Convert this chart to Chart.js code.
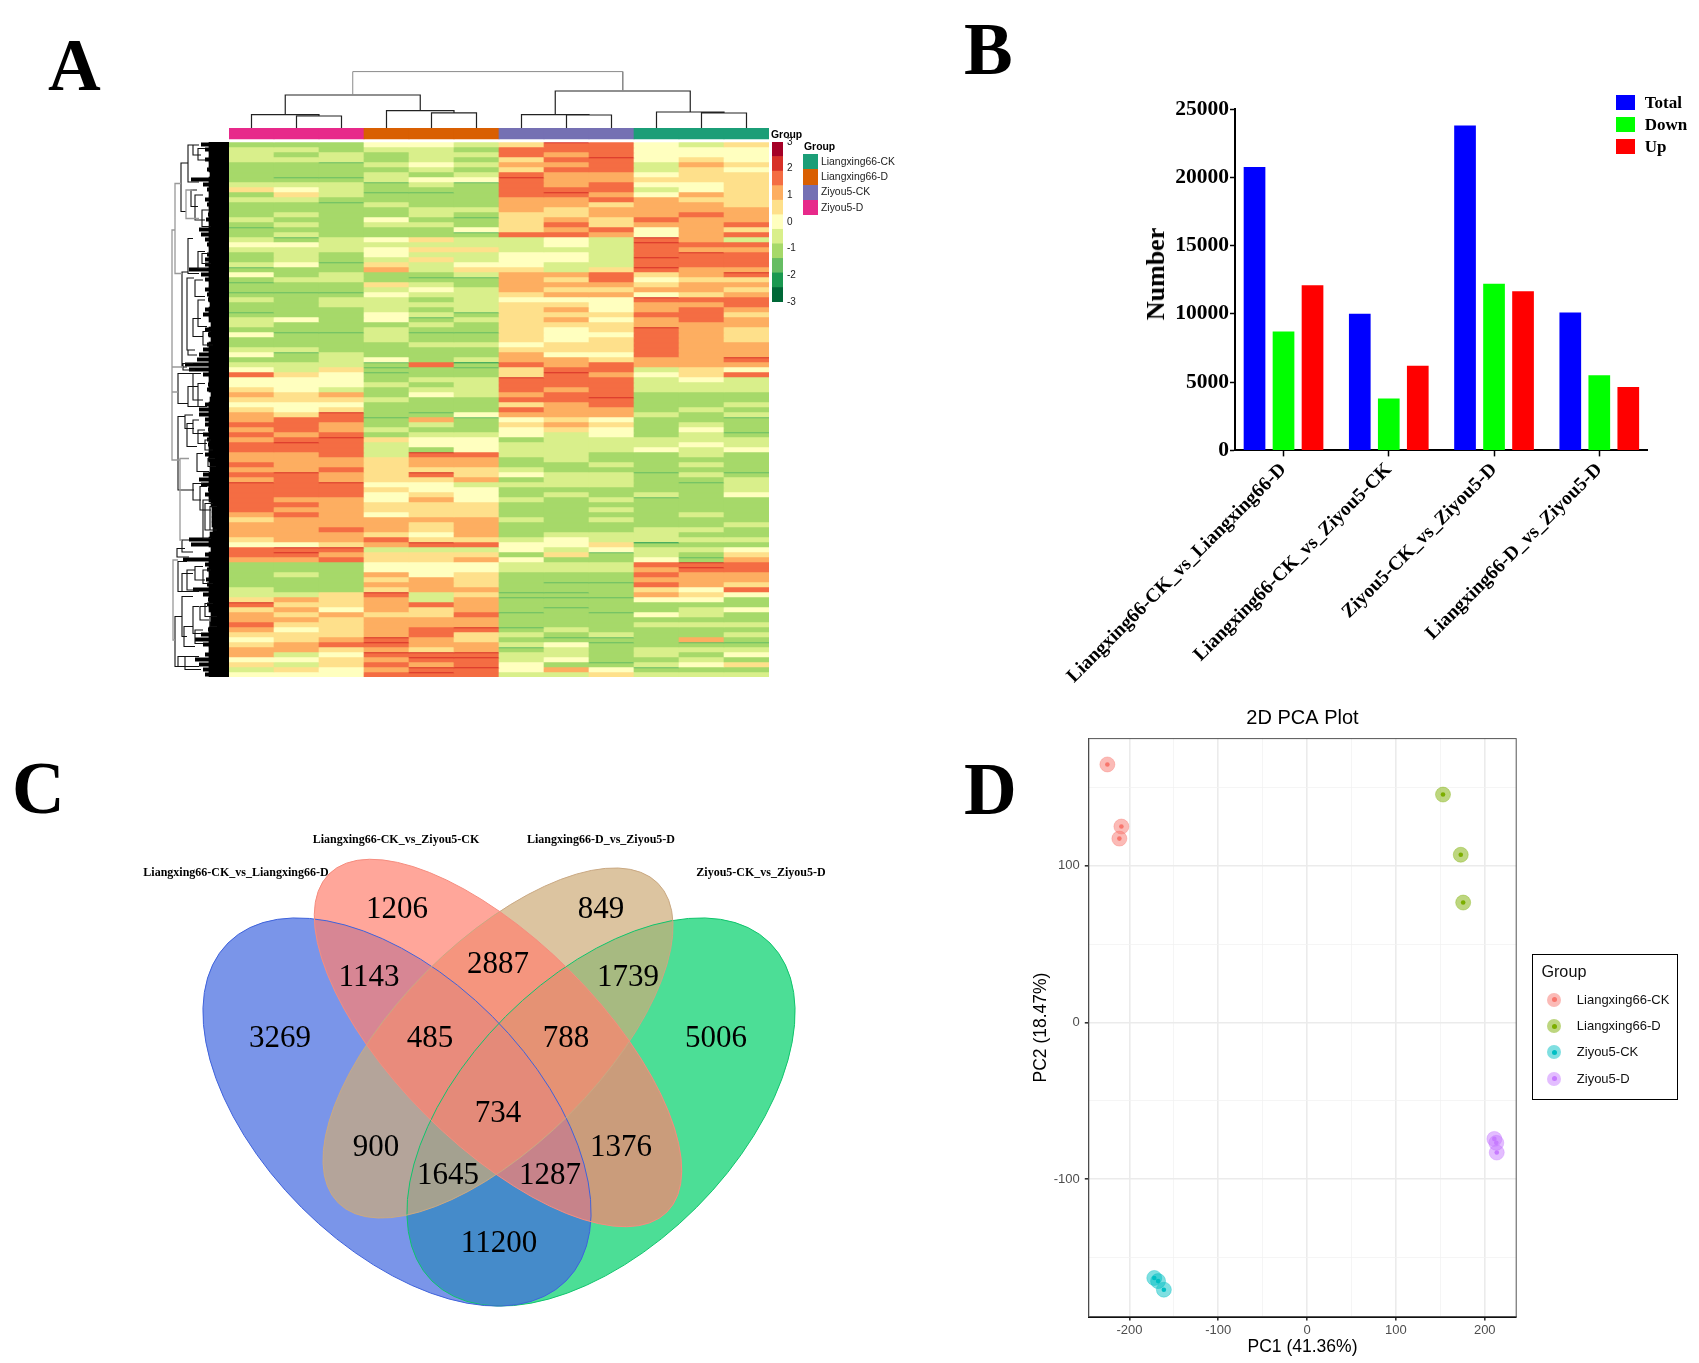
<!DOCTYPE html>
<html lang="en">
<head>
<meta charset="UTF-8">
<title>Transcriptome overview</title>
<script src="https://cdn.jsdelivr.net/npm/chart.js"></script>
<style>
    body { margin: 0; background: #fff; width: 1699px; height: 1363px; overflow: hidden; position: relative; }
    canvas { position: absolute; }
    .t { position: absolute; line-height: 0; white-space: nowrap; color: #000; font-family: "Liberation Sans", sans-serif; }
    .letter { font: bold 73px/0 "Liberation Serif", serif; }
    .box { position: absolute; }
    .a { font-size: 10.4px; color: #222; }
    .b { font: bold 17px/0 "Liberation Serif", serif; }
    .d { font-size: 13px; color: #111; }
    .ytitle { font: bold 26px/0 "Liberation Serif", serif; transform: translateX(-50%) rotate(-90deg); }
</style>
</head>
<body>
<div class="t letter" style="left:48px;top:66px">A</div>
<div class="t letter" style="left:964px;top:50px">B</div>
<div class="t letter" style="left:12px;top:789px">C</div>
<div class="t letter" style="left:964px;top:790px">D</div>

<canvas id="topTree" width="540" height="68" style="left:229px;top:60px"></canvas>
<canvas id="heat" width="540" height="549" style="left:229px;top:128px"></canvas>
<canvas id="leaves" width="59" height="535" style="left:170px;top:142px"></canvas>
<canvas id="sideTree" width="59" height="535" style="left:170px;top:142px"></canvas>
<canvas id="colorBar" width="44" height="180" style="left:772px;top:132px"></canvas>
<canvas id="bars" width="620" height="600" style="left:1040px;top:100px"></canvas>
<canvas id="venn" width="710" height="500" style="left:130px;top:825px"></canvas>
<canvas id="pca" width="565" height="663" style="left:1020px;top:700px"></canvas>

<div id="legends"></div>

<script>
const groupNames = ['Liangxing66-CK', 'Liangxing66-D', 'Ziyou5-CK', 'Ziyou5-D'];
const groupColors = ['#1B9E77', '#D95F02', '#7570B3', '#E7298A'];
const heatColors = ['#006837', '#1A9850', '#66BD63', '#A6D96A', '#D9EF8B', '#FFFFBF', '#FEE08B', '#FDAE61', '#F46D43', '#D73027', '#A50026'];
const scaleTicks = [-3, -2, -1, 0, 1, 2, 3];

// z-score x10, one row per band, columns in plotted order
const heatRowsTop = [
    [-11,-11,-11,0,0,-5,5,22,16,0,-5,5],
    [-5,-5,-11,-5,-5,-11,16,16,16,0,0,0],
    [-5,-11,-5,-11,-5,-5,16,11,16,0,0,0],
    [-5,-5,-5,-11,-5,-11,5,16,22,0,5,0],
    [-11,-11,-16,-5,0,-5,11,11,16,-5,11,5],
    [-11,-11,-11,-11,-5,-11,5,16,16,-5,5,0],
    [-11,-11,-11,-5,-11,-5,16,11,11,0,5,5],
    [-11,-16,-16,-5,0,0,22,11,11,5,5,5],
    [-5,-5,-5,-16,-5,-16,16,11,16,0,0,5],
    [5,0,-5,-11,-11,-11,16,16,16,-5,0,5],
    [-11,5,-5,-16,-16,-11,16,22,11,0,11,5],
    [-5,-5,-11,-11,-11,-11,11,11,16,11,5,5],
    [-11,-11,-16,-5,-11,-11,11,11,5,11,11,5],
    [-11,-11,-11,-11,-5,-5,11,5,11,11,11,11],
    [-11,-5,-11,-11,-5,-11,5,5,11,11,16,11],
    [-5,-11,-11,0,-11,-16,5,11,5,16,11,11],
    [-11,-5,-11,-5,-5,-11,5,16,5,11,11,16],
    [-16,-11,-11,-11,-11,0,5,11,16,0,11,5],
    [-11,-5,-11,-11,-11,-16,16,16,11,0,11,16],
    [-5,-16,-5,0,5,-5,-5,0,-5,22,11,-5],
    [0,0,-5,-5,-5,-5,-5,0,-5,22,16,16],
    [-5,-5,-5,0,5,5,-5,-5,-5,16,11,11],
    [-11,-5,-11,0,-5,-5,0,0,-5,16,22,16],
    [-11,-5,-11,-5,5,-5,0,0,-5,22,16,16],
    [-5,0,-16,5,-5,0,0,-5,-5,16,16,16],
    [-16,-11,-11,11,-5,5,5,-5,5,22,11,11],
    [0,-11,-5,-11,-11,-5,11,11,16,5,11,22],
    [-11,-5,-5,-11,-16,-16,11,5,16,0,5,5],
    [-16,-11,-11,5,-5,-11,11,11,11,5,11,11],
    [-11,-11,-11,-5,0,-5,11,5,5,11,11,5],
    [-16,-16,-16,0,-5,-5,5,11,11,0,5,11],
    [-5,-11,-5,-5,-11,-5,0,0,0,22,16,16],
    [-11,-11,-5,-5,-5,-5,5,5,0,11,11,16],
    [-11,-11,-11,-5,-11,-5,5,11,0,11,16,11],
    [-16,-11,-11,0,-5,-16,5,5,5,16,16,5],
    [-5,0,-11,0,-16,-5,5,11,0,11,16,11]
];
const heatRowsMiddle = [
    [-5,-11,-11,-11,-5,-11,5,5,5,11,11,11],
    [-11,-11,-11,-5,-11,-11,5,0,5,22,11,5],
    [0,-16,-16,-5,-16,-16,5,0,0,16,11,5],
    [-11,-11,-11,-5,-11,-11,5,0,5,16,11,5],
    [-11,-11,-11,-11,-5,-5,0,5,5,16,11,11],
    [-5,-5,-11,-11,-11,-11,5,5,5,16,11,11],
    [0,-16,-5,-11,-11,-11,11,0,0,16,11,11],
    [-11,-11,-5,0,-11,-5,11,11,5,11,11,22],
    [-5,-5,-5,-16,16,-22,16,11,16,11,11,11],
    [0,-5,5,-16,-11,-16,5,16,16,-5,5,0],
    [16,5,0,-16,-11,-11,5,22,11,0,5,16],
    [0,0,0,-11,-5,-5,22,16,16,-5,0,-5],
    [0,0,0,-5,-11,-5,16,16,16,-5,-5,-5],
    [5,0,-5,-11,-5,-5,16,11,16,-5,-5,-5],
    [11,5,11,-11,0,-5,11,16,16,-11,-11,-11],
    [5,5,5,-5,-11,-11,16,16,22,-11,-11,-11],
    [0,0,0,-11,-11,-11,5,11,16,-11,-11,-5],
    [5,0,5,-11,-11,-11,16,11,11,-11,-5,-11],
    [11,5,22,-11,-16,0,11,11,11,-5,-11,-5],
    [11,16,16,-16,11,-16,0,5,0,-11,-11,-16],
    [16,16,11,-11,-5,-11,5,11,5,-11,-5,-11],
    [11,16,11,-5,-11,-11,0,5,0,-11,0,-11],
    [16,11,16,-11,-5,-5,0,-5,0,-11,-5,-16],
    [11,16,22,5,0,0,-11,-5,-5,-5,-5,-5],
    [16,22,16,-5,0,0,-5,-5,-5,-5,0,-5],
    [16,16,16,-5,-11,0,-5,-5,-5,0,-5,0],
    [11,11,16,-5,22,16,-5,-5,-11,-11,-5,-11],
    [11,11,11,5,11,11,-11,-5,-11,-11,-11,-11],
    [16,11,11,5,11,11,-11,-11,-5,-11,-5,-11],
    [11,11,16,5,5,5,-5,-11,-11,-11,-11,-11],
    [16,22,11,5,22,5,0,-5,-5,-16,-5,-16],
    [11,16,11,5,5,11,-11,-5,-5,-11,-11,-5],
    [22,16,22,0,0,-5,-5,-5,-5,-11,-16,-5],
    [16,16,16,5,0,0,-11,-11,-11,-11,-11,-5],
    [16,16,16,0,5,0,-11,-5,-11,-5,-11,0],
    [16,11,11,0,11,0,-5,-11,-5,-16,-11,-11]
];
const heatRowsBottom = [
    [16,16,11,5,5,5,-11,-11,-11,-11,-11,-11],
    [16,11,11,5,5,5,-11,-11,-5,-11,-11,-11],
    [11,16,11,0,5,5,-11,-11,-11,-11,-5,-11],
    [5,11,11,11,11,11,-5,-11,-5,-11,-11,-11],
    [11,11,11,11,5,11,-11,-11,-11,-11,-11,-5],
    [11,11,16,11,5,11,-11,-11,-11,-5,-5,-11],
    [11,11,11,5,0,11,-11,-5,-5,-5,-11,-11],
    [5,11,11,16,5,5,-5,0,-5,-5,-5,-5],
    [0,0,5,11,22,16,0,0,5,-22,-11,-11],
    [16,22,22,-5,-5,-5,0,-5,0,-5,-5,0],
    [16,22,11,5,5,5,-11,5,-16,-5,-11,5],
    [11,11,16,5,5,11,0,-11,-11,0,-16,11],
    [-11,-11,-11,0,0,0,-5,-5,-5,16,22,16],
    [-11,-11,-11,0,0,0,-5,-5,-5,11,22,16],
    [-11,-5,-11,11,0,5,-11,-11,-11,16,11,11],
    [-11,-11,-11,5,11,5,-11,-11,-11,11,11,11],
    [-11,-11,-11,11,11,5,-11,-16,-16,16,11,5],
    [-5,-11,-11,5,11,11,-11,-11,-11,5,0,16],
    [-5,-5,5,22,-5,5,-16,-16,-11,11,5,0],
    [5,11,5,11,-5,11,-16,-16,-16,0,0,-11],
    [22,5,5,11,16,11,-11,-11,-11,-11,-11,-11],
    [5,11,0,11,5,11,-11,-16,-11,-11,-5,0],
    [11,5,11,5,5,16,-16,-11,-16,0,-5,-11],
    [11,11,5,11,11,11,-11,-11,-11,-11,-11,-11],
    [16,5,5,11,11,11,-11,-11,-11,-5,-5,-5],
    [11,0,5,11,16,22,-16,-5,-11,-11,-11,-11],
    [5,5,5,11,16,5,-5,-11,-5,-11,-11,-5],
    [0,5,11,22,11,5,-11,-16,-16,-11,11,-11],
    [5,11,16,22,11,11,-5,0,-16,-11,-16,-16],
    [11,11,5,11,5,11,-16,-5,-11,-5,-5,-5],
    [11,-5,0,22,22,22,-5,-5,-11,-5,-11,0],
    [0,0,5,11,22,22,-5,0,-11,-11,-5,-11],
    [5,-5,5,16,11,16,0,-11,-16,-5,0,5],
    [-5,5,0,11,22,22,0,11,0,-16,-11,-11],
    [0,0,0,16,22,16,-5,-5,5,-5,-5,-5]
];
const heatRows = heatRowsTop.concat(heatRowsMiddle, heatRowsBottom);

// sample tree above the heatmap: left leaf, right leaf, height, left child height, right child height
const topBranches = [
    [1.75, 4.75, 33, 13.4, 17.4], [7.75, 10.75, 37, 13.4, 16],
    [1, 2.5, 13.4, 0, 12], [2, 3, 12, 0, 0],
    [4, 5.5, 17.4, 0, 15.2], [5, 6, 15.2, 0, 0],
    [7, 8.5, 13.4, 0, 13], [8, 9, 13, 0, 0],
    [10, 11.5, 16, 0, 15], [11, 12, 15, 0, 0]
];
const topRootBranches = [[3.25, 9.25, 56.4, 33, 37]];

// gene tree: how far each row's leaves reach to the left
const leafDepth = [28,24,20,24,20,22,19,38,26,22,20,24,22,20,21,23,20,30,28,24,22,20,22,24,24,40,28,24,20,24,22,21,19,24,26,20,18,24,21,18,22,26,30,32,44,40,26,20,21,22,18,19,24,30,
    30,24,24,21,26,22,21,20,24,21,19,19,26,30,28,21,24,20,18,17,17,17,17,16,19,40,38,18,24,46,24,22,20,23,22,36,26,21,22,20,18,18,19,21,28,34,26,20,24,34,30,26,24];
// depth, row a, row b, child depth at a, child depth at b
const treeGrey = [
    [57, 17.6, 63.6, 54, 49], [54, 8.3, 26.3, 48, 47], [43, 9.6, 15.3, 36, 30],
    [49, 63.3, 79.6, 40, 47], [56, 83.6, 99.6, 51, 54], [57, 45, 45, 46, 46], [57, 50, 50, 51, 51]
];
const treeBlack = [
    [48, 4.2, 13.9, 41, 43], [41, 0.6, 8, 36, 30], [47, 26, 45, 41, 42], [41, 19.3, 26.3, 36, 30], [42, 27.2, 41.6, 35, 38],
    [36, 0.6, 2.6, 30, 28], [31, 1.3, 3.6, 24, 22], [38, 9.6, 12.9, 32, 31], [34, 10.6, 15.6, 26, 24], [27, 13.6, 16.9, 20, 18],
    [31, 21.9, 25.3, 24, 22], [27, 22.3, 24.3, 20, 18], [34, 27.6, 30.9, 26, 24], [31, 31.6, 36.9, 24, 22], [36, 35.3, 38.9, 28, 26],
    [26, 37.9, 40.6, 18, 16], [41, 41.6, 42.6, 34, 32], [46, 44.3, 45.6, 36, 34], [36, 46.3, 51.6, 28, 26], [31, 48.3, 52.9, 24, 22],
    [51, 46.3, 52.3, 36, 41], [41, 48.9, 52.9, 31, 30],
    [51, 54.9, 69.6, 44, 35], [42, 56.3, 60.9, 36, 32], [44, 54.6, 57.3, 36, 35], [36, 55.6, 58.3, 30, 26], [31, 57.6, 60.3, 24, 22],
    [24, 59.6, 61.6, 18, 16], [32, 62.3, 65.9, 26, 20], [21, 63.3, 64.9, 14, 13], [36, 68.3, 71.6, 26, 28], [29, 68.9, 73.6, 22, 18],
    [26, 71.6, 79.3, 18, 18], [24, 72.3, 77.6, 16, 14], [19, 72.9, 77.6, 12, 12], [47, 79.6, 82, 40, 36], [52, 81.3, 83, 44, 40],
    [51, 83.9, 89.9, 42, 46], [42, 85.6, 89.6, 34, 30], [34, 84.9, 87.6, 26, 24], [26, 85.6, 88.3, 18, 16], [47, 86.3, 89.9, 36, 30],
    [54, 94.9, 104.9, 47, 50], [47, 90.9, 98.9, 36, 42], [45, 96.9, 100.9, 36, 34], [36, 92.9, 98.3, 30, 28], [29, 92.9, 95.6, 22, 20],
    [24, 92.3, 94.9, 16, 16], [19, 94.9, 96.9, 12, 12], [34, 97.6, 100.3, 26, 26], [51, 102.9, 104.9, 32, 30], [44, 102.9, 105.5, 30, 28]
];

// panel B
const comparisons = ['Liangxing66-CK_vs_Liangxing66-D', 'Liangxing66-CK_vs_Ziyou5-CK', 'Ziyou5-CK_vs_Ziyou5-D', 'Liangxing66-D_vs_Ziyou5-D'];
const totalCounts = [20750, 10000, 23800, 10100];
const downCounts = [8700, 3800, 12200, 5500];
const upCounts = [12100, 6200, 11650, 4650];

// panel C
const vennSets = ['Liangxing66-CK_vs_Ziyou5-CK', 'Liangxing66-D_vs_Ziyou5-D', 'Liangxing66-CK_vs_Liangxing66-D', 'Ziyou5-CK_vs_Ziyou5-D'];
const vennSetX = [396, 601, 236, 761];
const vennSetY = [840, 840, 873, 873];
const vennCounts = [1206, 849, 2887, 1143, 1739, 3269, 485, 788, 5006, 734, 900, 1376, 1645, 1287, 11200];
const vennCountX = [397, 601, 498, 369, 628, 280, 430, 566, 716, 498, 376, 621, 448, 550, 499];
const vennCountY = [910, 910, 965, 978, 978, 1039, 1039, 1039, 1039, 1114, 1148, 1148, 1176, 1176, 1244];
// centre x, centre y, long radius, short radius, tilt in degrees
const vennGreen = [601, 1112, 239, 135, -45];
const vennBlue = [397, 1112, 239, 135, 45];
const vennTan = [498, 1043, 226, 101, -45];
const vennPink = [498, 1043, 239, 102, 45];

// panel D
const pcaCKx = [-224.8, -209, -211.3];
const pcaCKy = [164.6, 125, 117.3];
const pcaDx = [153, 173, 175.7];
const pcaDy = [145.4, 107, 76.5];
const pcaZCKx = [-172, -167.7, -161.2];
const pcaZCKy = [-163, -165, -170.5];
const pcaZDx = [210.8, 213, 213.5];
const pcaZDy = [-74.3, -76.8, -83];

Chart.defaults.animation = false;
Chart.defaults.responsive = false;
Chart.defaults.plugins.legend.display = false;
Chart.defaults.plugins.tooltip.enabled = false;

function binColor(z) {
    const i = Math.floor((z / 10 + 3) / 6 * 11);
    return heatColors[Math.min(10, Math.max(0, i))];
}

// the strongest values in the picture are mostly hairlines on a paler band
function bandBody(z) {
    if (z === -16 || z === -22) return -11;
    if (z === 22) return 16;
    return z;
}

function treePoints(branches) {
    const pts = [];
    branches.forEach(([d, a, b, da, db]) => {
        pts.push({x: da, y: a}, {x: d, y: a}, {x: d, y: b}, {x: db, y: b}, {x: null, y: null});
    });
    return pts;
}

function topTreePoints(branches) {
    const pts = [];
    branches.forEach(([l, r, h, hl, hr]) => {
        pts.push({x: l, y: hl}, {x: l, y: h}, {x: r, y: h}, {x: r, y: hr}, {x: null, y: null});
    });
    return pts;
}

const hidden = {display: false};

// ----- A: sample tree
new Chart(document.getElementById('topTree'), {
    type: 'scatter',
    data: {datasets: [
        {data: topTreePoints(topRootBranches), showLine: true, borderColor: '#8a8a8a', borderWidth: 1, pointRadius: 0},
        {data: topTreePoints(topBranches), showLine: true, borderColor: '#222', borderWidth: 1.2, pointRadius: 0}
    ]},
    options: {
        layout: {padding: 0},
        scales: {
            x: {display: false, type: 'linear', min: 0.5, max: 12.5},
            y: {display: false, min: 0, max: 68}
        }
    }
});

// ----- A: heatmap, group strip on top of the stacked rows
const sampleLabels = ['Z-D1', 'Z-D2', 'Z-D3', 'L-D1', 'L-D2', 'L-D3', 'Z-CK1', 'Z-CK2', 'Z-CK3', 'L-CK1', 'L-CK2', 'L-CK3'];
const stripOrder = [3, 3, 3, 1, 1, 1, 2, 2, 2, 0, 0, 0];
const heatDatasets = [
    {data: sampleLabels.map(() => 2.2), backgroundColor: stripOrder.map(g => groupColors[g])},
    {data: sampleLabels.map(() => 0.6), backgroundColor: '#fff'}
];
heatRows.forEach(row => {
    heatDatasets.push({data: row.map(() => 0.2), backgroundColor: row.map(binColor)});
    heatDatasets.push({data: row.map(() => 0.8), backgroundColor: row.map(z => binColor(bandBody(z)))});
});
new Chart(document.getElementById('heat'), {
    type: 'bar',
    data: {labels: sampleLabels, datasets: heatDatasets},
    options: {
        layout: {padding: 0},
        datasets: {bar: {barPercentage: 1, categoryPercentage: 1, borderWidth: 0, stack: 'rows'}},
        scales: {
            x: {display: false, stacked: true},
            y: {display: false, stacked: true, reverse: true, min: 0, max: heatRows.length + 2.8}
        }
    }
});

// ----- A: gene tree
new Chart(document.getElementById('leaves'), {
    type: 'bar',
    data: {labels: leafDepth.map((_, i) => i), datasets: [
        {data: leafDepth.map(d => Math.min(d, 20)), backgroundColor: '#000', barPercentage: 1, categoryPercentage: 1},
        {data: leafDepth, backgroundColor: '#000', barPercentage: 0.8, categoryPercentage: 1}
    ]},
    options: {
        indexAxis: 'y',
        layout: {padding: 0},
        datasets: {bar: {grouped: false}},
        scales: {x: {display: false, reverse: true, min: 0, max: 59}, y: hidden}
    }
});
new Chart(document.getElementById('sideTree'), {
    type: 'scatter',
    data: {datasets: [
        {data: treePoints(treeGrey), showLine: true, borderColor: '#999', borderWidth: 1.3, pointRadius: 0},
        {data: treePoints(treeBlack), showLine: true, borderColor: '#111', borderWidth: 1.1, pointRadius: 0}
    ]},
    options: {
        layout: {padding: 0},
        scales: {
            x: {display: false, type: 'linear', reverse: true, min: 0, max: 59},
            y: {display: false, reverse: true, min: 0, max: 107}
        }
    }
});

// ----- A: colour key
new Chart(document.getElementById('colorBar'), {
    type: 'bar',
    data: {
        labels: ['key'],
        datasets: heatColors.map((c, i) => ({
            data: [[-3 + i * 6 / 11, -3 + (i + 1) * 6 / 11]],
            backgroundColor: c, barPercentage: 1, categoryPercentage: 1, grouped: false
        }))
    },
    options: {
        layout: {padding: {top: 10, bottom: 10}},
        scales: {
            x: hidden,
            y: {
                position: 'right', min: -3, max: 3,
                afterBuildTicks: s => { s.ticks = scaleTicks.map(value => ({value})); },
                afterFit: s => { s.width = 33; },
                grid: {display: false, drawTicks: false}, border: {display: false},
                ticks: {color: '#222', padding: 4, font: {size: 10, family: 'Liberation Sans'}}
            }
        }
    }
});

// ----- B
const positionedComparisons = v => v.map((y, i) => ({x: i + 1, y}));
new Chart(document.getElementById('bars'), {
    type: 'bar',
    data: {datasets: [
        {label: 'Total', data: positionedComparisons(totalCounts), backgroundColor: '#0000FF'},
        {label: 'Down', data: positionedComparisons(downCounts), backgroundColor: '#00FF00'},
        {label: 'Up', data: positionedComparisons(upCounts), backgroundColor: '#FF0000'}
    ]},
    options: {
        layout: {padding: {top: 9, right: 12.4}},
        datasets: {bar: {categoryPercentage: 0.8266, barPercentage: 0.748}},
        scales: {
            x: {
                type: 'linear', offset: false, min: 0.539, max: 4.459,
                afterBuildTicks: s => { s.ticks = comparisons.map((_, i) => ({value: i + 1})); },
                afterFit: s => { s.height = 249.6; s.paddingLeft = 0; s.paddingRight = 0; },
                grid: {drawOnChartArea: false, offset: false, tickLength: 6, tickColor: '#000', tickWidth: 1.5},
                border: {color: '#000', width: 2},
                ticks: {
                    autoSkip: false, minRotation: 45, maxRotation: 45, padding: 2, color: '#000',
                    font: {size: 19.5, weight: 'bold', family: 'Liberation Serif'},
                    callback: v => comparisons[v - 1]
                }
            },
            y: {
                min: 0, max: 25000,
                afterFit: s => { s.width = 195; s.paddingTop = 0; s.paddingBottom = 0; },
                grid: {drawOnChartArea: false, tickLength: 5, tickColor: '#000', tickWidth: 1.5},
                border: {color: '#000', width: 2},
                ticks: {stepSize: 5000, padding: 1, color: '#000', font: {size: 21.5, weight: 'bold', family: 'Liberation Serif'}, callback: v => String(v)}
            }
        }
    }
});

// ----- C
const vennPlugin = {
    id: 'vennShapes',
    beforeDatasetsDraw(chart) {
        const {ctx, scales: {x, y}} = chart;
        const shapes = [
            [vennGreen, 'rgba(0,208,105,0.7)', '#0FC46C'],
            [vennBlue, 'rgba(65,104,224,0.7)', '#3E62DB'],
            [vennTan, 'rgba(205,171,120,0.7)', '#C9A882'],
            [vennPink, 'rgba(255,128,111,0.7)', '#F58C7E']
        ];
        const trace = s => {
            ctx.beginPath();
            ctx.ellipse(x.getPixelForValue(s[0]), y.getPixelForValue(s[1]), s[2], s[3], s[4] * Math.PI / 180, 0, Math.PI * 2);
        };
        shapes.forEach(([s, fill]) => { trace(s); ctx.fillStyle = fill; ctx.fill(); });
        ctx.lineWidth = 1;
        shapes.forEach(([s, , line]) => { trace(s); ctx.strokeStyle = line; ctx.stroke(); });
    },
    afterDatasetsDraw(chart) {
        const {ctx} = chart;
        ctx.fillStyle = '#000';
        ctx.textAlign = 'center';
        ctx.textBaseline = 'middle';
        ctx.font = '31px "Liberation Serif"';
        chart.getDatasetMeta(0).data.forEach((pt, i) => ctx.fillText(vennCounts[i], pt.x, pt.y));
        ctx.font = 'bold 12px "Liberation Serif"';
        chart.getDatasetMeta(1).data.forEach((pt, i) => ctx.fillText(vennSets[i], pt.x, pt.y));
    }
};
new Chart(document.getElementById('venn'), {
    type: 'scatter',
    data: {datasets: [
        {data: vennCounts.map((_, i) => ({x: vennCountX[i], y: vennCountY[i]})), pointRadius: 0},
        {data: vennSets.map((_, i) => ({x: vennSetX[i], y: vennSetY[i]})), pointRadius: 0}
    ]},
    options: {
        layout: {padding: 0},
        scales: {
            x: {display: false, type: 'linear', min: 130, max: 840},
            y: {display: false, reverse: true, min: 825, max: 1325}
        }
    },
    plugins: [vennPlugin]
});

// ----- D
const pcaGroups = [
    [pcaCKx, pcaCKy, '248,118,109'],
    [pcaDx, pcaDy, '124,174,0'],
    [pcaZCKx, pcaZCKy, '0,191,196'],
    [pcaZDx, pcaZDy, '199,124,255']
];
const pcaDatasets = [];
pcaGroups.forEach(([xs, ys, rgb]) => {
    const pts = xs.map((x, i) => ({x, y: ys[i]}));
    pcaDatasets.push({data: pts, pointRadius: 7.5, pointBackgroundColor: `rgba(${rgb},0.5)`, pointBorderColor: `rgba(${rgb},0.35)`, pointBorderWidth: 1});
    pcaDatasets.push({data: pts, pointRadius: 2.3, pointBackgroundColor: `rgb(${rgb})`, pointBorderWidth: 0});
});
const panelBorder = {
    id: 'panelBorder',
    afterDatasetsDraw(chart) {
        const {ctx, chartArea: a} = chart;
        ctx.strokeStyle = '#555';
        ctx.lineWidth = 1;
        ctx.strokeRect(a.left, a.top, a.right - a.left, a.bottom - a.top);
    }
};
const pcaTickFont = {size: 13, family: 'Liberation Sans'};
const pcaTitleFont = {size: 17.5, family: 'Liberation Sans'};
const major = v => v % 100 === 0;
const pcaGrid = {
    color: c => major(c.tick.value) ? '#EBEBEB' : '#F3F3F3',
    lineWidth: c => major(c.tick.value) ? 1.6 : 0.8,
    tickColor: c => major(c.tick.value) ? '#333' : 'rgba(0,0,0,0)',
    tickLength: 4
};
const pcaTicks = {
    stepSize: 50, includeBounds: false, autoSkip: false, maxRotation: 0, color: '#4D4D4D', font: pcaTickFont,
    callback: v => major(v) ? String(v) : ''
};
new Chart(document.getElementById('pca'), {
    type: 'scatter',
    data: {datasets: pcaDatasets},
    options: {
        layout: {padding: {right: 68.8}},
        plugins: {title: {display: true, fullSize: false, text: '2D PCA Plot', color: '#000', font: {size: 20, weight: 'normal', family: 'Liberation Sans'}, padding: {top: 6, bottom: 8.6}}},
        scales: {
            x: {
                type: 'linear', min: -245.7, max: 235.4,
                afterFit: s => { s.height = 46.5; },
                grid: pcaGrid, border: {color: '#111', width: 2},
                ticks: {...pcaTicks, padding: 2},
                title: {display: true, text: 'PC1 (41.36%)', color: '#000', font: pcaTitleFont, padding: {top: 0, bottom: 5.5}}
            },
            y: {
                min: -187.6, max: 181.1,
                afterFit: s => { s.width = 68.8; },
                grid: pcaGrid, border: {color: '#333', width: 1},
                ticks: {...pcaTicks, padding: 5},
                title: {display: true, text: 'PC2 (18.47%)', color: '#000', font: pcaTitleFont, padding: {top: 10.5, bottom: 0}}
            }
        }
    },
    plugins: [panelBorder]
});

// ----- legends and small texts
const legends = document.getElementById('legends');
function addBox(x, y, w, h, css) {
    const el = document.createElement('div');
    el.className = 'box';
    el.style.cssText = `left:${x}px;top:${y}px;width:${w}px;height:${h}px;${css}`;
    legends.appendChild(el);
}
function addText(text, x, y, cls, css) {
    const el = document.createElement('div');
    el.className = 't ' + cls;
    el.style.cssText = `left:${x}px;top:${y}px;${css || ''}`;
    el.textContent = text;
    legends.appendChild(el);
}

addText('Group', 771, 134.5, 'a', 'font-weight:bold;color:#000');
addText('Group', 804, 146.7, 'a', 'font-weight:bold;color:#000');
groupNames.forEach((name, i) => {
    addBox(803, 154 + i * 15.35, 15, 15.35, `background:${groupColors[i]}`);
    addText(name, 821, 161.7 + i * 15.35, 'a');
});

addText('Number', 1156, 274, 'ytitle');
['Total', 'Down', 'Up'].forEach((name, i) => {
    addBox(1615.5, 95 + i * 22, 19, 14.5, `background:${['#0000FF', '#00FF00', '#FF0000'][i]}`);
    addText(name, 1644.7, 102.5 + i * 22, 'b');
});

addBox(1532, 954, 146, 146, 'border:1.5px solid #000;box-sizing:border-box');
addText('Group', 1541.4, 971, 'd', 'font-size:16.2px');
groupNames.forEach((name, i) => {
    const rgb = pcaGroups[i][2];
    const y = 999.6 + i * 26.4;
    addBox(1547.3, y - 7, 14, 14, `border-radius:50%;background:rgba(${rgb},0.5)`);
    addBox(1551.8, y - 2.5, 5, 5, `border-radius:50%;background:rgb(${rgb})`);
    addText(name, 1576.8, y, 'd');
});
</script>
</body>
</html>
